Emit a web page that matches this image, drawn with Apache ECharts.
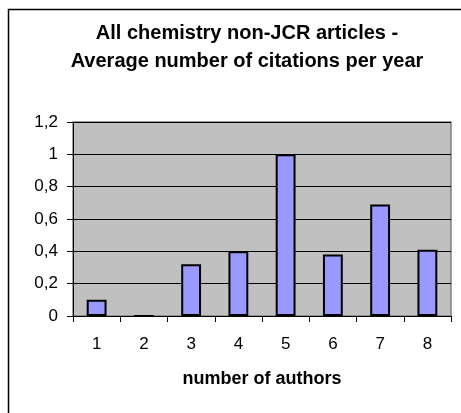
<!DOCTYPE html>
<html>
<head>
<meta charset="utf-8">
<script src="https://cdn.jsdelivr.net/npm/echarts@6/dist/echarts.min.js"></script>
<style>
  html, body { margin: 0; padding: 0; background: #ffffff; }
  #chart { width: 461px; height: 413px; }
</style>
</head>
<body>
<div id="chart"></div>
<script>
// Number of authors per article
const authorCounts = ['1', '2', '3', '4', '5', '6', '7', '8'];
// Average citations per year for each author count
const avgCitations = [0.10, 0, 0.32, 0.40, 1.00, 0.38, 0.69, 0.41];
// Value axis ticks
const yTicks = [0, 0.2, 0.4, 0.6, 0.8, 1.0, 1.2];

const titleText = 'All chemistry non-JCR articles -\nAverage number of citations per year';
const xAxisName = 'number of authors';
const FONT = '"Liberation Sans", Arial, sans-serif';

const chart = echarts.init(document.getElementById('chart'), null, { renderer: 'canvas' });

chart.setOption({
  backgroundColor: '#ffffff',
  animation: false,
  textStyle: { fontFamily: FONT },
  graphic: [{
    type: 'rect',
    shape: { x: 8.5, y: 9.5, width: 480, height: 430 },
    style: { fill: 'none', stroke: '#000000', lineWidth: 1.5 },
    silent: true,
    z: -10
  }],
  title: {
    text: titleText,
    left: 242,
    top: 14,
    textAlign: 'center',
    textStyle: {
      fontFamily: FONT,
      fontSize: 20,
      fontWeight: 'bold',
      color: '#000000',
      lineHeight: 28
    }
  },
  grid: {
    left: 73,
    right: 10,
    top: 122,
    bottom: 97,
    show: true,
    backgroundColor: '#c0c0c0',
    borderColor: '#808080',
    borderWidth: 1.5
  },
  xAxis: {
    type: 'category',
    data: authorCounts,
    name: xAxisName,
    nameLocation: 'middle',
    nameGap: 54,
    nameTextStyle: { fontFamily: FONT, fontSize: 18, fontWeight: 'bold', color: '#000000' },
    axisLine: { show: true, lineStyle: { color: '#000000', width: 1 } },
    axisTick: { show: true, length: 6, lineStyle: { color: '#000000', width: 1 } },
    axisLabel: { margin: 20, fontFamily: FONT, fontSize: 17, color: '#000000' },
    splitLine: { show: false }
  },
  yAxis: {
    type: 'value',
    min: yTicks[0],
    max: yTicks[yTicks.length - 1],
    interval: 0.2,
    axisLine: { show: true, lineStyle: { color: '#000000', width: 1 } },
    axisTick: { show: true, length: 6, lineStyle: { color: '#000000', width: 1 } },
    axisLabel: {
      margin: 15,
      fontFamily: FONT,
      fontSize: 17,
      color: '#000000',
      formatter: v => String(Math.round(v * 10) / 10).replace('.', ',')
    },
    splitLine: { show: true, lineStyle: { color: '#000000', width: 1 } }
  },
  series: [{
    type: 'bar',
    data: avgCitations,
    barWidth: '42%',
    itemStyle: { color: '#9999ff', borderColor: '#000000', borderWidth: 2 }
  }]
});
</script>
</body>
</html>
